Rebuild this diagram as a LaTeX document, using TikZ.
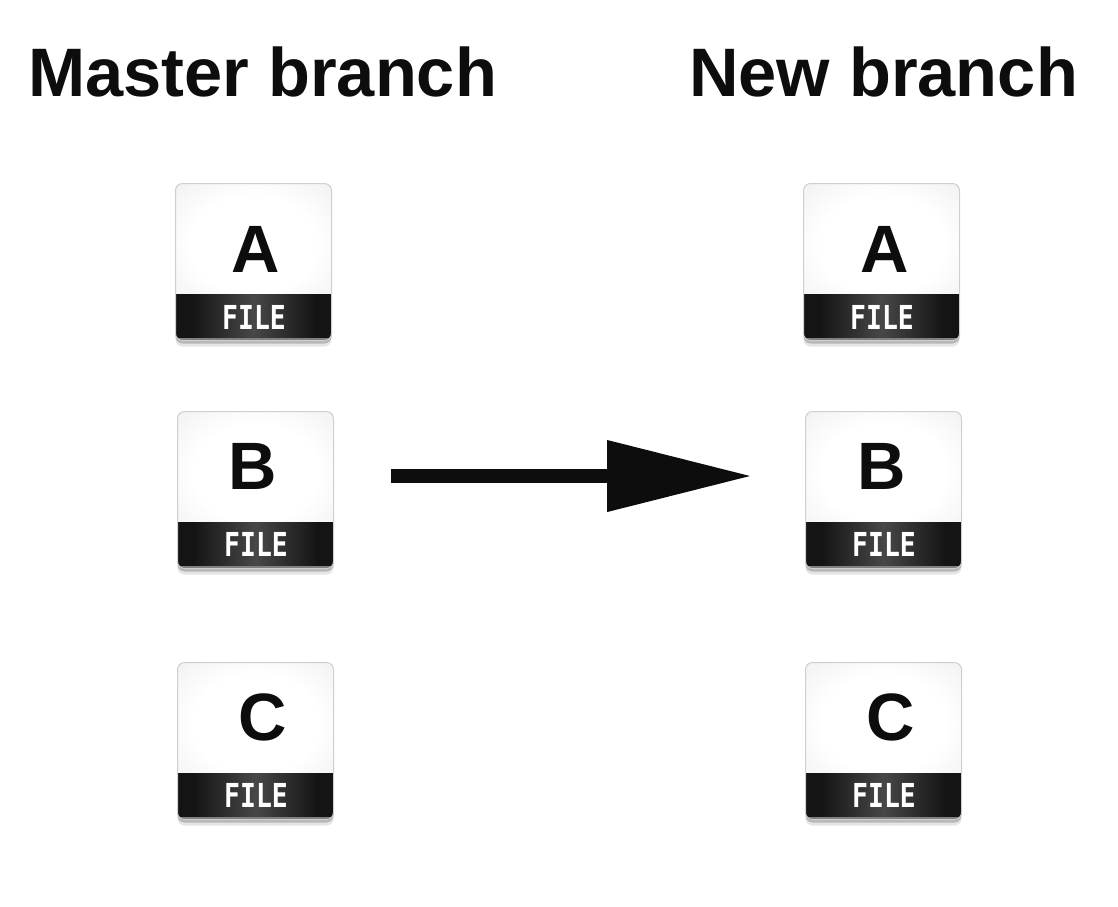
\documentclass[tikz,border=0pt]{standalone}
\usepackage{fontspec}
\setmainfont{Liberation Sans}
\newfontfamily\filefont{DejaVu Sans Mono}
\usepackage{tikz}
\usetikzlibrary{arrows.meta,calc,positioning}
\definecolor{inkblack}{HTML}{0D0D0D}
\definecolor{iconedge}{HTML}{CFCFCF}
\definecolor{bandblack}{HTML}{141414}
\pgfdeclareradialshading{iconglow}{\pgfpointorigin}{rgb(0bp)=(1,1,1); rgb(20bp)=(1,1,1); rgb(32bp)=(.96,.96,.96); rgb(40bp)=(.92,.92,.92); rgb(50bp)=(.85,.85,.85)}
\tikzset{
  headline/.style={anchor=base west,inner sep=0pt,text=inkblack,font=\fontsize{68.6}{70}\selectfont\bfseries},
  fileletter/.style={anchor=base,inner sep=0pt,text=inkblack,font=\fontsize{67}{70}\selectfont\bfseries},
  filetag/.style={anchor=base,inner sep=0pt,text=white,xscale=.8,font=\fontsize{33}{34}\selectfont\filefont\bfseries},
  fileicon/.style={anchor=north west,inner sep=0pt,minimum width=156pt,minimum height=157pt,
    rounded corners=7pt,draw=iconedge,line width=1pt,
    preaction={fill=black,opacity=.10,transform canvas={yshift=-6pt}},
    preaction={fill=black,opacity=.20,transform canvas={yshift=-3pt}},
    path picture={
      \begin{scope}[sharp corners]
      \shade[shading=iconglow] ($(path picture bounding box.south west)+(0,35)$) rectangle (path picture bounding box.north east);
      \fill[bandblack] (path picture bounding box.south west) rectangle ($(path picture bounding box.south east)+(0,47)$);
      \shade[left color=bandblack,right color=black!72] ($(path picture bounding box.south)+(-62,3)$) rectangle ($(path picture bounding box.south)+(0,46)$);
      \shade[right color=bandblack,left color=black!72] ($(path picture bounding box.south)+(0,3)$) rectangle ($(path picture bounding box.south)+(62,46)$);
      \fill[black!50] (path picture bounding box.south west) rectangle ($(path picture bounding box.south east)+(0,3)$);
      \end{scope}
    }},
  bigarrow/.style={-{Triangle[length=145pt,width=68pt,sep=0pt]},line width=14pt,draw=inkblack,shorten <=57pt,shorten >=53pt},
}
\begin{document}
\begin{tikzpicture}[x=1pt,y=1pt]
\useasboundingbox (0,0) rectangle (1118,-906);
% titles
\node[headline] (mastertitle) at (28,-96) {Master branch};
\node[headline] (newtitle) at (689,-96) {New branch};
% left column
\node[fileicon] (masterA) at (175,-183) {};
\node[fileicon] (masterB) at (177,-411) {};
\node[fileicon] (masterC) at (177,-662) {};
\node[fileletter] (masterAletter) at (256,-272) {A};
\node[fileletter] (masterBletter) at (253,-489) {B};
\node[fileletter] (masterCletter) at (263,-740) {C};
\node[filetag] (masterAtag) at (254,-329) {FILE};
\node[filetag] (masterBtag) at (256,-556) {FILE};
\node[filetag] (masterCtag) at (256,-807) {FILE};
% right column
\node[fileicon] (newA) at (803,-183) {};
\node[fileicon] (newB) at (805,-411) {};
\node[fileicon] (newC) at (805,-662) {};
\node[fileletter] (newAletter) at (885,-272) {A};
\node[fileletter] (newBletter) at (882,-489) {B};
\node[fileletter] (newCletter) at (891,-740) {C};
\node[filetag] (newAtag) at (882,-329) {FILE};
\node[filetag] (newBtag) at (884,-556) {FILE};
\node[filetag] (newCtag) at (884,-807) {FILE};
% arrow between the two B files
\draw[bigarrow] ([yshift=14pt]masterB.east) -- ([yshift=14pt]newB.west);
\end{tikzpicture}
\end{document}
